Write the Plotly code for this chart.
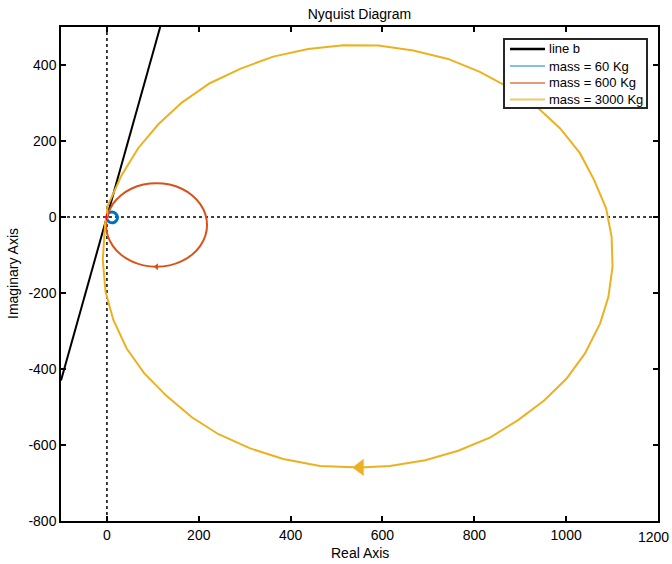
import plotly.graph_objects as go

# ---- data ----
line_b_x = [-100, 116]
line_b_y = [-430, 500]

m60_re = [0, 3, 11, 19, 23, 21, 14, 5, 0, 0]
m60_im = [0, 10, 13, 9, 0, -9, -15, -13, -6, 0]

m600_re = [0, 12.7, 30.2, 53, 79.5, 108, 136.5, 163, 185.8, 203.3, 214.3, 218, 214.3, 203.3,
           185.8, 163, 136.5, 108, 79.5, 53, 30.2, 12.7, 1.7, -2, 0]
m600_im = [0, 34, 56.8, 74.3, 85.3, 89, 85.3, 74.3, 56.8, 34, 7.5, -21, -49.5, -76,
           -98.8, -116.3, -127.3, -131, -127.3, -116.3, -98.8, -76, -49.5, -21, 0]

m3000_re = [0, 0.7, 32, 68, 112, 163, 224, 290, 362, 438, 515, 591, 667, 743, 812, 878, 936, 987,
            1030, 1061, 1087, 1099, 1101, 1092, 1074, 1041, 1001, 952, 896, 835, 765, 693, 616,
            551, 464, 384, 312, 242, 185, 129, 81, 43, 14, -3, -9, -4, 0]
m3000_im = [0, 27, 110, 181, 244, 301, 352, 390, 422, 442, 452, 451, 438, 416, 382, 339, 290, 233,
            168, 97, 23, -52, -131, -210, -280, -359, -425, -483, -534, -580, -615, -640, -655,
            -659, -655, -637, -609, -571, -527, -470, -411, -346, -271, -197, -113, -17, 0]

arrow3000 = (551, -659)
arrow600 = (108, -131)
critical_point = (-1, 0)

x_ticks = [0, 200, 400, 600, 800, 1000, 1200]
y_ticks = [-800, -600, -400, -200, 0, 200, 400]

legend_names = ["line b", "mass = 60 Kg", "mass = 600 Kg", "mass = 3000 Kg"]

BLUE = "#0072BD"
ORANGE = "#D95319"
YELLOW = "#EDB120"
FONT = "Liberation Sans, Arial, Helvetica, sans-serif"

W, H = 672, 564
L, R, T, B = 61, 14, 27, 43
PW, PH = W - L - R, H - T - B


def px_to_paper(px, py):
    return (px - L) / PW, (H - B - py) / PH


fig = go.Figure()

fig.add_trace(go.Scatter(x=line_b_x, y=line_b_y, mode="lines", name=legend_names[0],
                         line=dict(color="black", width=2)))
fig.add_trace(go.Scatter(x=m60_re, y=m60_im, mode="lines", name=legend_names[1],
                         line=dict(color=BLUE, width=3, shape="spline")))
fig.add_trace(go.Scatter(x=m600_re, y=m600_im, mode="lines", name=legend_names[2],
                         line=dict(color=ORANGE, width=2, shape="spline")))
fig.add_trace(go.Scatter(x=m3000_re, y=m3000_im, mode="lines", name=legend_names[3],
                         line=dict(color=YELLOW, width=2)))

# direction arrows
fig.add_trace(go.Scatter(x=[arrow3000[0]], y=[arrow3000[1]], mode="markers",
                         marker=dict(symbol="triangle-left", size=15, color=YELLOW)))
fig.add_trace(go.Scatter(x=[arrow600[0]], y=[arrow600[1]], mode="markers",
                         marker=dict(symbol="triangle-left", size=6, color=ORANGE)))
# critical point
fig.add_trace(go.Scatter(x=[critical_point[0]], y=[critical_point[1]], mode="markers",
                         marker=dict(symbol="cross-thin", size=5, line=dict(color="red", width=1))))

# dotted zero lines
fig.add_shape(type="line", xref="x", yref="paper", x0=0, x1=0, y0=0, y1=1,
              line=dict(color="black", width=1.5, dash="dot"), layer="below")
fig.add_shape(type="line", xref="paper", yref="y", x0=0, x1=1, y0=0, y1=0,
              line=dict(color="black", width=1.5, dash="dot"), layer="below")

# ---- manual legend (MATLAB style) ----
bx0, by0 = px_to_paper(504, 39)
bx1, by1 = px_to_paper(647, 108)
fig.add_shape(type="rect", xref="paper", yref="paper", x0=bx0, x1=bx1, y0=by1, y1=by0,
              line=dict(color="#262626", width=2), fillcolor="white", layer="above")
legend_colors = ["black", "#5FA8DC", "#E0794A", "#F2C866"]
legend_widths = [2.5, 1.5, 1.5, 1.8]
row_y = [49, 66, 83, 99.5]
for name, col, lw, ry in zip(legend_names, legend_colors, legend_widths, row_y):
    lx0, ly = px_to_paper(510, ry)
    lx1, _ = px_to_paper(545, ry)
    fig.add_shape(type="line", xref="paper", yref="paper", x0=lx0, x1=lx1, y0=ly, y1=ly,
                  line=dict(color=col, width=lw), layer="above")
    tx, _ = px_to_paper(547, ry)
    fig.add_annotation(xref="paper", yref="paper", x=tx, y=ly, text=name, showarrow=False,
                       xanchor="left", yanchor="middle",
                       font=dict(family=FONT, size=13, color="black"))

# axis titles
ax_x, ax_y = px_to_paper((L + W - R) / 2, 553)
fig.add_annotation(xref="paper", yref="paper", x=ax_x, y=ax_y, text="Real Axis", showarrow=False,
                   xanchor="center", yanchor="middle", font=dict(family=FONT, size=14, color="black"))
ay_x, ay_y = px_to_paper(13, T + PH / 2)
fig.add_annotation(xref="paper", yref="paper", x=ay_x, y=ay_y, text="Imaginary Axis", showarrow=False,
                   textangle=-90, xanchor="center", yanchor="middle",
                   font=dict(family=FONT, size=14, color="black"))

# last x tick label sits at the right edge (plotly would hide it); keep it fully inside the page
fig.add_annotation(xref="x", yref="paper", x=x_ticks[-1], y=0, text=str(x_ticks[-1]), showarrow=False,
                   xanchor="right", yanchor="top", yshift=-6, xshift=13,
                   font=dict(family=FONT, size=14, color="black"))

axis_common = dict(showgrid=False, zeroline=False, showline=True, linecolor="black", linewidth=1.5,
                   mirror="ticks", ticks="inside", ticklen=5, tickwidth=1.5, tickcolor="black",
                   automargin=False, tickfont=dict(family=FONT, size=14, color="black"))

fig.update_layout(
    width=W, height=H,
    margin=dict(l=L, r=R, t=T, b=B),
    paper_bgcolor="white", plot_bgcolor="white",
    font=dict(family=FONT, size=14, color="black"),
    showlegend=False,
    title=dict(text="Nyquist Diagram", x=(L + W - R) / 2 / W, xanchor="center",
               y=1 - 14 / H, yanchor="middle", font=dict(size=14, color="black")),
    xaxis=dict(range=[-100, 1200], tickvals=x_ticks, ticktext=[str(v) for v in x_ticks[:-1]] + [""],
               **axis_common),
    yaxis=dict(range=[-800, 500], tickvals=y_ticks, ticktext=[str(v) for v in y_ticks],
               **axis_common),
)

fig.write_html("out.html")
